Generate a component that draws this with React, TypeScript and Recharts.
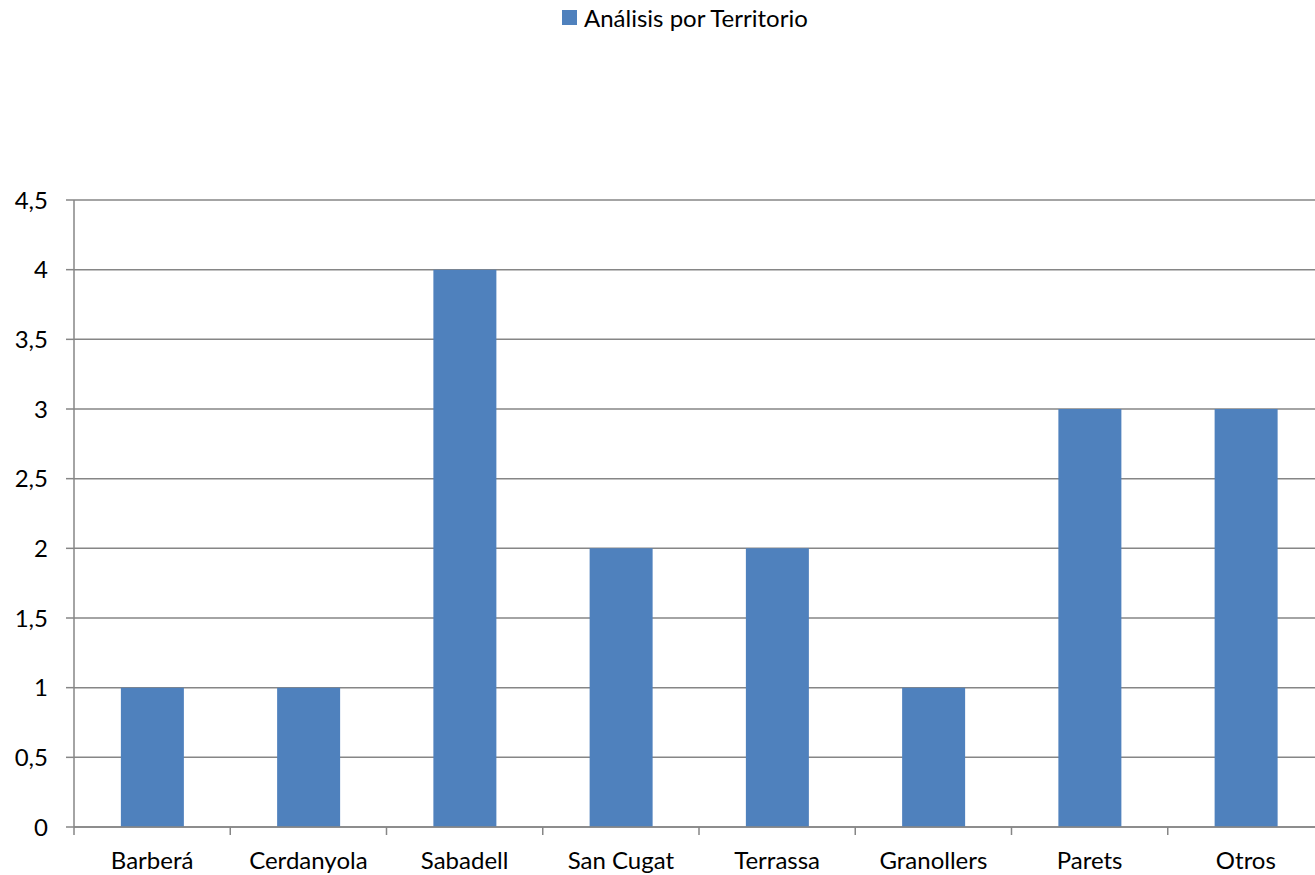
import React from 'react';
import { BarChart, Bar, XAxis, YAxis, CartesianGrid } from 'recharts';

const territories = ['Barberá', 'Cerdanyola', 'Sabadell', 'San Cugat', 'Terrassa', 'Granollers', 'Parets', 'Otros'];
const counts = [1, 1, 4, 2, 2, 1, 3, 3];
const yTicks = [0, 0.5, 1, 1.5, 2, 2.5, 3, 3.5, 4, 4.5];
const seriesName = 'Análisis por Territorio';

const data = territories.map((name, i) => ({ name, value: counts[i] }));

const FONT = 'Lato, "Open Sans", sans-serif';
const GRAY = '#868686';
const BLUE = '#4F81BD';

// category tick: mark at the left boundary of the band, label at the centre
const CategoryTick = (props: any) => {
  const { x, y, payload, bandwidth } = props;
  const half = (bandwidth ?? 156.25) / 2;
  return (
    <g>
      <line x1={x - half} x2={x - half} y1={y - 8} y2={y} stroke={GRAY} strokeWidth={1.5} />
      <text x={x} y={y + 34} textAnchor="middle" fill="#000" fontSize={24} fontFamily={FONT}>
        {payload.value}
      </text>
    </g>
  );
};

const App: React.FC = () => {
  return (
    <div style={{ position: 'fixed', left: 0, top: 0, width: 1315, height: 875, overflow: 'hidden', background: '#fff' }}>
      <div
        style={{
          position: 'absolute', left: 562, top: 3, display: 'flex', alignItems: 'center',
          fontFamily: FONT, fontSize: 24, color: '#000',
        }}
      >
        <span style={{ display: 'inline-block', width: 15, height: 15, background: BLUE, marginRight: 7 }} />
        {seriesName}
      </div>
      <BarChart
        width={1340}
        height={875}
        data={data}
        margin={{ top: 200, right: 16, bottom: 0, left: 0 }}
        barCategoryGap="30%"
      >
        <CartesianGrid vertical={false} stroke={GRAY} strokeWidth={1.5} />
        <XAxis
          dataKey="name"
          axisLine={{ stroke: GRAY, strokeWidth: 1.5 }}
          tickLine={false}
          tick={<CategoryTick bandwidth={156.25} />}
          interval={0}
          height={48}
        />
        <YAxis
          domain={[0, 4.5]}
          ticks={yTicks}
          interval={0}
          width={74}
          axisLine={{ stroke: GRAY, strokeWidth: 1.5 }}
          tickLine={{ stroke: GRAY, strokeWidth: 1.5 }}
          tickSize={8}
          tickMargin={18}
          tickFormatter={(v: number) => String(v).replace('.', ',')}
          tick={{ fill: '#000', fontSize: 24, fontFamily: FONT }}
        />
        <Bar dataKey="value" name={seriesName} fill={BLUE} isAnimationActive={false} />
      </BarChart>
    </div>
  );
};

export default App;
